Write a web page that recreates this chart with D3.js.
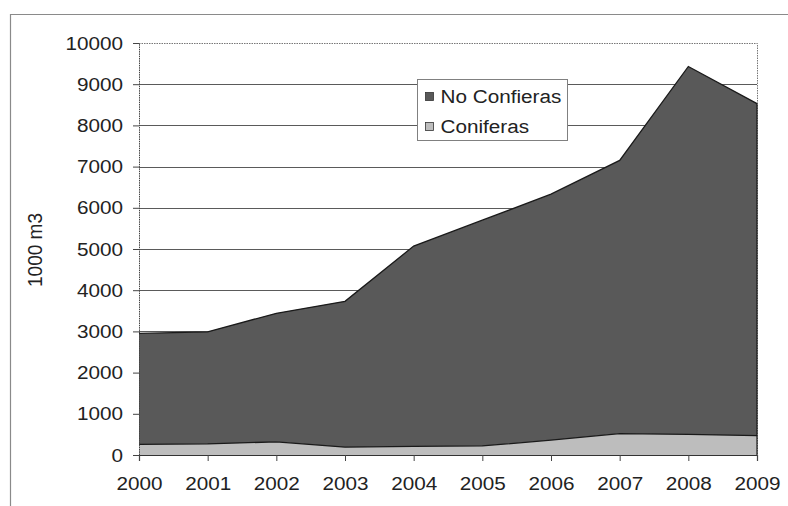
<!DOCTYPE html>
<html>
<head>
<meta charset="utf-8">
<script src="https://cdn.jsdelivr.net/npm/d3@7"></script>
<style>
  html, body { margin: 0; padding: 0; background: #fff; }
  svg { display: block; font-family: "Liberation Sans", Arial, sans-serif; }
</style>
</head>
<body>
<svg id="chart" width="788" height="506"></svg>
<script>
// Timber volume by year, stacked: conifers at the bottom, broadleaf on top
const years = [2000, 2001, 2002, 2003, 2004, 2005, 2006, 2007, 2008, 2009];
const coniferas = [260, 270, 320, 190, 210, 220, 360, 520, 500, 470];
const noConfieras = [2690, 2720, 3120, 3540, 4860, 5480, 5970, 6630, 8930, 8060];
const yTicks = [0, 1000, 2000, 3000, 4000, 5000, 6000, 7000, 8000, 9000, 10000];
const seriesNames = ["No Confieras", "Coniferas"];
const yLabel = "1000 m3";

const colors = { "No Confieras": "#595959", "Coniferas": "#bdbdbd" };
const textStretch = "scale(1.09,1)";

const svg = d3.select("#chart");
const margin = { left: 139, right: 31, top: 43, bottom: 51 };
const W = 788, H = 506;

const x = d3.scaleLinear()
  .domain([years[0], years[years.length - 1]])
  .range([margin.left, W - margin.right]);
const y = d3.scaleLinear()
  .domain([0, 10000])
  .range([H - margin.bottom, margin.top]);

// Outer chart frame
svg.append("path")
  .attr("d", `M10.5,${H + 2} V14.5 H${W + 2}`)
  .attr("fill", "none")
  .attr("stroke", "#8a8a8a")
  .attr("stroke-width", 1.2);

// Horizontal gridlines
svg.append("g")
  .selectAll("line")
  .data(yTicks.filter(t => t > 0 && t < 10000))
  .join("line")
  .attr("x1", margin.left).attr("x2", W - margin.right)
  .attr("y1", d => Math.round(y(d)) + 0.5).attr("y2", d => Math.round(y(d)) + 0.5)
  .attr("stroke", "#5a5a5a")
  .attr("stroke-width", 1);

// Plot area border (dotted) on top and right
svg.append("path")
  .attr("d", `M${margin.left},${Math.round(y(10000)) + 0.5} H${Math.round(x(2009)) + 0.5} V${y(0)}`)
  .attr("fill", "none")
  .attr("stroke", "#777")
  .attr("stroke-width", 1)
  .attr("stroke-dasharray", "1.5,1");

// Stacked layers
const rows = years.map((yr, i) => ({ year: yr, "Coniferas": coniferas[i], "No Confieras": noConfieras[i] }));
const stack = d3.stack().keys(["Coniferas", "No Confieras"]);
const layers = stack(rows);

const area = d3.area()
  .x(d => x(d.data.year))
  .y0(d => y(d[0]))
  .y1(d => y(d[1]));
const topLine = d3.line()
  .x(d => x(d.data.year))
  .y(d => y(d[1]));

svg.append("g")
  .selectAll("path")
  .data(layers)
  .join("path")
  .attr("d", area)
  .attr("fill", d => colors[d.key]);

svg.append("g")
  .selectAll("path")
  .data(layers)
  .join("path")
  .attr("d", topLine)
  .attr("fill", "none")
  .attr("stroke", "#1a1a1a")
  .attr("stroke-width", 1.3);

// Right edge of the areas
svg.append("line")
  .attr("x1", x(2009)).attr("x2", x(2009))
  .attr("y1", y(noConfieras[9] + coniferas[9])).attr("y2", y(0))
  .attr("stroke", "#1a1a1a").attr("stroke-width", 1.2);

// Y axis
const yAxis = d3.axisLeft(y).tickValues(yTicks).tickSize(6).tickPadding(0).tickFormat(d3.format("d"));
const gy = svg.append("g")
  .attr("transform", `translate(${margin.left},0)`)
  .call(yAxis);
gy.select(".domain").attr("stroke", "#444").attr("stroke-dasharray", "1.5,0.8");
gy.selectAll(".tick line").attr("stroke", "#444");
gy.selectAll(".tick text")
  .attr("x", 0)
  .attr("transform", `translate(-16,0) ${textStretch}`)
  .attr("fill", "#222")
  .attr("font-size", "19px")
  .attr("font-family", "'Liberation Sans', Arial, sans-serif");

// X axis
const xAxis = d3.axisBottom(x).tickValues(years).tickSize(6).tickPadding(16).tickFormat(d3.format("d"));
const gx = svg.append("g")
  .attr("transform", `translate(0,${y(0)})`)
  .call(xAxis);
gx.select(".domain").attr("stroke", "#333").attr("stroke-width", 1.2);
gx.selectAll(".tick line").attr("stroke", "#444");
gx.selectAll(".tick text")
  .attr("transform", textStretch)
  .attr("fill", "#222")
  .attr("font-size", "19px")
  .attr("font-family", "'Liberation Sans', Arial, sans-serif");

// Y axis title
svg.append("text")
  .attr("transform", `translate(42,250) rotate(-90) scale(1,1.09)`)
  .attr("text-anchor", "middle")
  .attr("fill", "#222")
  .attr("font-size", "19px")
  .text(yLabel);

// Legend
const lg = svg.append("g").attr("transform", "translate(417.5,79.5)");
lg.append("rect")
  .attr("width", 150).attr("height", 61)
  .attr("fill", "#fff")
  .attr("stroke", "#808080").attr("stroke-width", 1);
seriesNames.forEach((name, i) => {
  const row = lg.append("g").attr("transform", `translate(8,${17 + i * 30})`);
  row.append("rect")
    .attr("x", 0).attr("y", -4)
    .attr("width", 8).attr("height", 8)
    .attr("fill", colors[name])
    .attr("stroke", "#333").attr("stroke-width", 0.8);
  row.append("text")
    .attr("x", 0).attr("y", 6.5)
    .attr("transform", `translate(15,0) ${textStretch}`)
    .attr("fill", "#222")
    .attr("font-size", "19px")
    .text(name);
});
</script>
</body>
</html>
